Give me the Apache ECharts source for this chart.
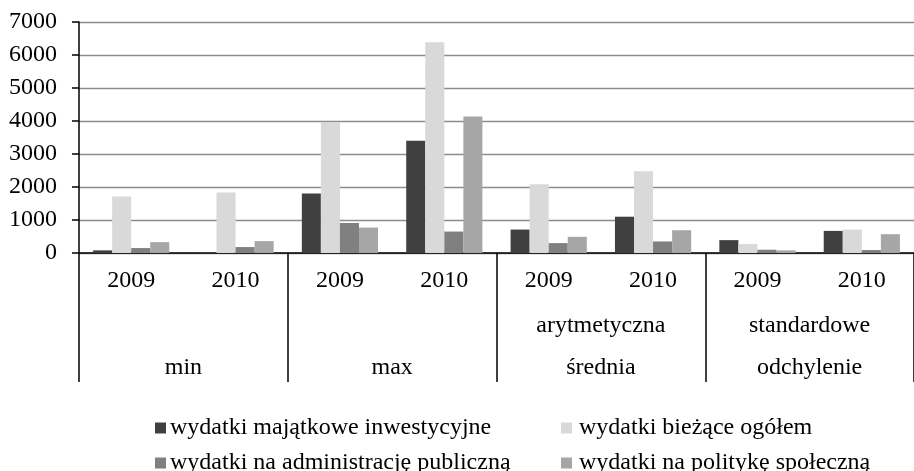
<!DOCTYPE html>
<html lang="pl">
<head>
    <meta charset="UTF-8">
    <title>wydatki</title>
    <script src="https://cdn.jsdelivr.net/npm/echarts@6/dist/echarts.min.js"></script>
</head>
<body style="margin:0">
<div id="main" style="width: 914px;height: 471px"></div>
<script>
    // dane
    var lata = ['2009', '2010', '2009', '2010', '2009', '2010', '2009', '2010'];
    var grupy = ['\nmin', '\nmax', 'arytmetyczna\nśrednia', 'standardowe\nodchylenie'];
    var nazwy = ['wydatki majątkowe inwestycyjne', 'wydatki bieżące ogółem',
        'wydatki na administrację publiczną', 'wydatki na politykę społeczną'];
    var majatkowe = [80, 30, 1800, 3400, 710, 1100, 390, 670];
    var biezace = [1710, 1830, 3970, 6390, 2080, 2480, 270, 710];
    var administracja = [150, 180, 910, 650, 300, 350, 100, 90];
    var polityka = [330, 360, 770, 4140, 490, 690, 80, 570];
    var kolory = ['#404040', '#d9d9d9', '#808080', '#a6a6a6'];

    var font = 'Liberation Serif';
    var fs = 24;
    var myChart = echarts.init(document.getElementById('main'));

    function seria(i, dane) {
        return {
            name: nazwy[i],
            type: 'bar',
            xAxisIndex: 0,
            data: dane,
            barGap: 0,
            barCategoryGap: '27%',
            itemStyle: {color: kolory[i]}
        };
    }

    // jedna legenda na pozycje, zeby kolumny byly wyrownane
    var pozycje = [[150, 411], [556, 411], [150, 446], [556, 446]];
    var legendy = nazwy.map(function (n, i) {
        return {
            data: [n],
            left: pozycje[i][0], top: pozycje[i][1],
            icon: 'rect', itemWidth: 11, itemHeight: 11,
            itemGap: 4,
            selectedMode: false,
            formatter: '{t|{name}}',
            textStyle: {
                fontFamily: font, fontSize: fs, color: '#000',
                rich: {t: {fontFamily: font, fontSize: fs, color: '#000', padding: [0, 0, 0, i % 2 ? 2 : -1]}}
            }
        };
    });

    var option = {
        backgroundColor: '#fff',
        animation: false,
        textStyle: {fontFamily: font},
        grid: {left: 79, top: 22, width: 843, height: 231},
        legend: legendy,
        xAxis: [{
            type: 'category',
            data: lata,
            position: 'bottom',
            axisLine: {lineStyle: {color: '#000', width: 1.5}},
            axisTick: {interval: 0, length: 44, lineStyle: {color: '#000', width: 1.5}},
            axisLabel: {interval: 0, margin: 16, fontFamily: font, fontSize: fs, color: '#000'}
        }, {
            type: 'category',
            data: grupy,
            position: 'bottom',
            axisLine: {show: false},
            axisTick: {show: true, interval: 0, length: 129, lineStyle: {color: '#000', width: 1.5}},
            axisLabel: {interval: 0, margin: 52, fontFamily: font, fontSize: fs, color: '#000', lineHeight: 42}
        }],
        yAxis: {
            type: 'value',
            min: 0, max: 7000, interval: 1000,
            axisLine: {show: true, lineStyle: {color: '#000', width: 1.5}},
            axisTick: {show: true, length: 7, lineStyle: {color: '#000', width: 1.5}},
            axisLabel: {margin: 22, fontFamily: font, fontSize: fs, color: '#000',
                formatter: function (v) { return String(v); }},
            splitLine: {lineStyle: {color: '#8c8c8c', width: 1.3}}
        },
        series: [
            seria(0, majatkowe),
            seria(1, biezace),
            seria(2, administracja),
            seria(3, polityka)
        ]
    };
    myChart.setOption(option);
</script>
</body>
</html>
